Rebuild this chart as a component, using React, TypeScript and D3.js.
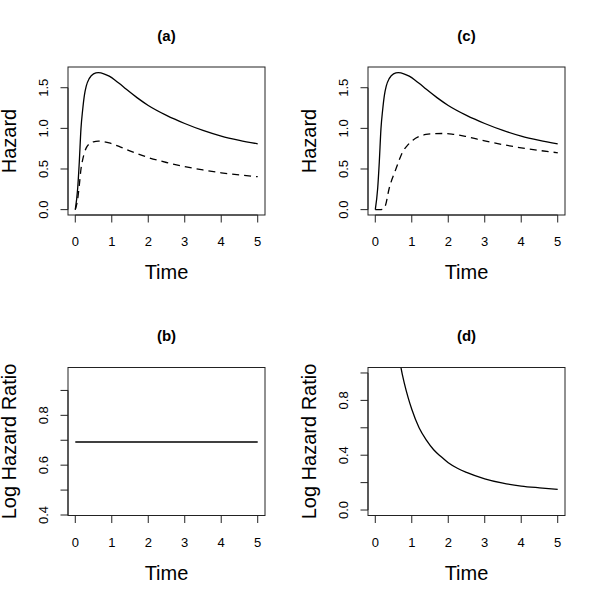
import React from "react";
import * as d3 from "d3";

// ---------- data ----------
const xTicks = [0, 1, 2, 3, 4, 5];

const hazTicks = [0, 0.5, 1.0, 1.5];
const hazTickLabels = ["0.0", "0.5", "1.0", "1.5"];

const bTicks = [0.4, 0.5, 0.6, 0.7, 0.8, 0.9];
const bTickLabels = ["0.4", "", "0.6", "", "0.8", ""];

const dTicks = [0.0, 0.2, 0.4, 0.6, 0.8, 1.0];
const dTickLabels = ["0.0", "", "0.4", "", "0.8", ""];

// Panel (a)
const aSolidT = [0, 0.065, 0.11, 0.156, 0.2, 0.25, 0.3, 0.385, 0.5, 0.63, 0.8, 0.93, 1.1, 1.2, 1.4, 1.7, 2.0, 2.5, 3.0, 3.5, 4.0, 4.5, 5.0];
const aSolidV = [0, 0.26, 0.59, 1.0, 1.22, 1.41, 1.52, 1.615, 1.67, 1.685, 1.668, 1.642, 1.59, 1.555, 1.48, 1.375, 1.282, 1.16, 1.06, 0.975, 0.905, 0.853, 0.81];
const aDashT = [0, 0.065, 0.11, 0.156, 0.2, 0.25, 0.3, 0.385, 0.5, 0.63, 0.8, 0.93, 1.1, 1.2, 1.4, 1.7, 2.0, 2.5, 3.0, 3.5, 4.0, 4.5, 5.0];
const aDashV = [0, 0.13, 0.3, 0.5, 0.61, 0.7, 0.76, 0.81, 0.835, 0.843, 0.834, 0.821, 0.795, 0.778, 0.74, 0.688, 0.641, 0.58, 0.53, 0.488, 0.453, 0.427, 0.405];

// Panel (c)
const cSolidT = [0, 0.065, 0.11, 0.156, 0.2, 0.25, 0.3, 0.385, 0.5, 0.63, 0.8, 0.93, 1.1, 1.2, 1.4, 1.7, 2.0, 2.5, 3.0, 3.5, 4.0, 4.5, 5.0];
const cSolidV = [0, 0.26, 0.59, 1.0, 1.22, 1.41, 1.52, 1.615, 1.67, 1.685, 1.668, 1.642, 1.59, 1.555, 1.48, 1.375, 1.282, 1.16, 1.06, 0.975, 0.905, 0.853, 0.81];
const cDashT = [0, 0.12, 0.2, 0.27, 0.38, 0.57, 0.75, 0.9, 1.03, 1.2, 1.39, 1.6, 1.85, 2.1, 2.49, 3.0, 3.5, 4.0, 4.5, 5.0];
const cDashV = [0, 0, 0.005, 0.04, 0.26, 0.505, 0.71, 0.8, 0.855, 0.9, 0.925, 0.935, 0.937, 0.93, 0.9, 0.845, 0.8, 0.76, 0.728, 0.7];

// Panel (b)
const bT = [0, 5];
const bV = [0.693, 0.693];

// Panel (d)
const dT = [0.65, 0.705, 0.8, 0.9, 1.0, 1.2, 1.4, 1.6, 1.8, 2.0, 2.25, 2.5, 3.0, 3.5, 4.0, 4.5, 5.0];
const dV = [1.13, 1.037, 0.92, 0.82, 0.735, 0.6, 0.51, 0.44, 0.39, 0.345, 0.305, 0.275, 0.228, 0.196, 0.175, 0.162, 0.151];

// ---------- layout ----------
const FONT = "'Liberation Sans', Arial, Helvetica, sans-serif";

type Series = { t: number[]; v: number[]; dash?: string };
type PanelSpec = {
  id: string;
  title: string;
  left: number;
  top: number;
  yDomain: [number, number];
  yTicks: number[];
  yLabels: string[];
  ylab: string;
  series: Series[];
};

const BOX_W = 197;
const BOX_H = 148;

const panels: PanelSpec[] = [
  {
    id: "a", title: "(a)", left: 68, top: 67, yDomain: [-0.066, 1.755],
    yTicks: hazTicks, yLabels: hazTickLabels, ylab: "Hazard",
    series: [{ t: aSolidT, v: aSolidV }, { t: aDashT, v: aDashV, dash: "7,5" }],
  },
  {
    id: "c", title: "(c)", left: 368, top: 67, yDomain: [-0.066, 1.755],
    yTicks: hazTicks, yLabels: hazTickLabels, ylab: "Hazard",
    series: [{ t: cSolidT, v: cSolidV }, { t: cDashT, v: cDashV, dash: "7,5" }],
  },
  {
    id: "b", title: "(b)", left: 68, top: 367.5, yDomain: [0.398, 0.992],
    yTicks: bTicks, yLabels: bTickLabels, ylab: "Log Hazard Ratio",
    series: [{ t: bT, v: bV }],
  },
  {
    id: "d", title: "(d)", left: 368, top: 367.5, yDomain: [-0.04, 1.04],
    yTicks: dTicks, yLabels: dTickLabels, ylab: "Log Hazard Ratio",
    series: [{ t: dT, v: dV }],
  },
];

function Panel({ p }: { p: PanelSpec }) {
  const x = d3.scaleLinear().domain([-0.2, 5.2]).range([p.left, p.left + BOX_W]);
  const y = d3.scaleLinear().domain(p.yDomain).range([p.top + BOX_H, p.top]);
  const bottom = p.top + BOX_H;
  const cx = p.left + BOX_W / 2;
  const cy = p.top + BOX_H / 2;
  const tick = 7.5;
  const line = d3
    .line<[number, number]>()
    .x((d) => x(d[0]))
    .y((d) => y(d[1]))
    .curve(d3.curveMonotoneX);
  const clipId = `clip-${p.id}`;
  return (
    <g>
      <defs>
        <clipPath id={clipId}>
          <rect x={p.left} y={p.top} width={BOX_W} height={BOX_H} />
        </clipPath>
      </defs>
      {/* title */}
      <text x={cx} y={p.top - 26.5} textAnchor="middle" fontFamily={FONT} fontWeight="bold" fontSize={15} fill="#000">
        {p.title}
      </text>
      {/* curves */}
      <g clipPath={`url(#${clipId})`}>
        {p.series.map((s, i) => (
          <path
            key={i}
            d={line(s.t.map((t, j) => [t, s.v[j]] as [number, number])) || ""}
            fill="none"
            stroke="#000"
            strokeWidth={1.3}
            strokeDasharray={s.dash}
          />
        ))}
      </g>
      {/* box */}
      <rect x={p.left} y={p.top} width={BOX_W} height={BOX_H} fill="none" stroke="#222" strokeWidth={1} />
      {/* x axis */}
      <line x1={x(xTicks[0])} x2={x(xTicks[xTicks.length - 1])} y1={bottom} y2={bottom} stroke="#222" />
      {xTicks.map((t) => (
        <g key={t}>
          <line x1={x(t)} x2={x(t)} y1={bottom} y2={bottom + tick} stroke="#222" />
          <text x={x(t)} y={bottom + 31} textAnchor="middle" fontFamily={FONT} fontSize={13} fill="#000">
            {String(t)}
          </text>
        </g>
      ))}
      <text x={cx} y={bottom + 64} textAnchor="middle" fontFamily={FONT} fontSize={20} fill="#000">
        Time
      </text>
      {/* y axis */}
      <line x1={p.left} x2={p.left} y1={y(p.yTicks[0])} y2={y(p.yTicks[p.yTicks.length - 1])} stroke="#222" />
      {p.yTicks.map((t, i) => (
        <g key={t}>
          <line x1={p.left - tick} x2={p.left} y1={y(t)} y2={y(t)} stroke="#222" />
          {p.yLabels[i] ? (
            <text
              transform={`translate(${p.left - 20},${y(t)}) rotate(-90)`}
              textAnchor="middle"
              fontFamily={FONT}
              fontSize={13}
              fill="#000"
            >
              {p.yLabels[i]}
            </text>
          ) : null}
        </g>
      ))}
      <text
        transform={`translate(${p.left - 52},${cy}) rotate(-90)`}
        textAnchor="middle"
        fontFamily={FONT}
        fontSize={20}
        fill="#000"
      >
        {p.ylab}
      </text>
    </g>
  );
}

export default function App() {
  return (
    <svg
      width={600}
      height={600}
      viewBox="0 0 600 600"
      style={{ position: "absolute", left: 0, top: 0, background: "#fff", display: "block" }}
    >
      <rect x={0} y={0} width={600} height={600} fill="#fff" />
      {panels.map((p) => (
        <Panel key={p.id} p={p} />
      ))}
    </svg>
  );
}
